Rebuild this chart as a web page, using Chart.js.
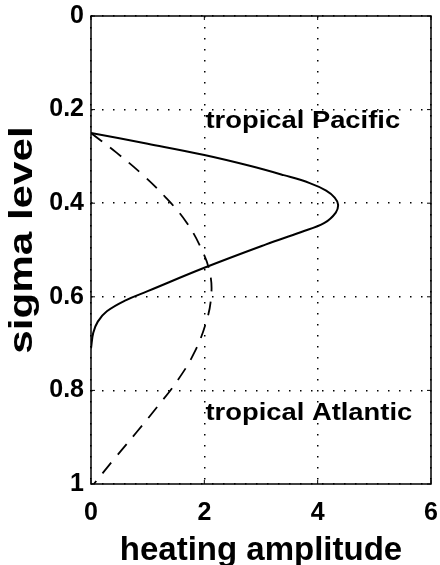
<!DOCTYPE html>
<html>
<head>
<meta charset="utf-8">
<script src="https://cdn.jsdelivr.net/npm/chart.js@4/dist/chart.umd.min.js"></script>
<style>
  body { margin: 0; background: #fff; }
  canvas { display: block; }
</style>
</head>
<body>
<canvas id="heatingChart" width="440" height="565"></canvas>
<script>
// Heating profiles: x = heating amplitude, y = sigma level
const pacificAmp   = [0, 1.0, 2.0, 2.8, 3.4, 3.86, 4.15, 4.30, 4.36, 4.32, 4.12, 3.7, 3.09, 2.0, 1.0, 0.62, 0.28, 0.12, 0.04, 0];
const pacificSigma = [0.25, 0.273, 0.297, 0.32, 0.34, 0.357, 0.373, 0.388, 0.403, 0.42, 0.442, 0.462, 0.488, 0.538, 0.588, 0.607, 0.631, 0.653, 0.677, 0.71];

const atlanticAmp   = [0, 0.45, 0.9, 1.32, 1.68, 1.95, 2.1, 2.12, 2.03, 1.82, 1.52, 1.17, 0.8, 0.42, 0.05];
const atlanticSigma = [0.25, 0.292, 0.338, 0.388, 0.44, 0.498, 0.55, 0.6, 0.655, 0.72, 0.78, 0.835, 0.89, 0.945, 1.0];

const xTickValues = [0, 2, 4, 6];
const xTickLabels = ['0', '2', '4', '6'];
const yTickValues = [0, 0.2, 0.4, 0.6, 0.8, 1];
const yTickLabels = ['0', '0.2', '0.4', '0.6', '0.8', '1'];

const labels = ['tropical Pacific', 'tropical Atlantic'];
const labelAt = [[2.02, 0.239], [2.02, 0.864]];
const yTitle = 'sigma level';

const FONT = "'Liberation Sans', Arial, Helvetica, sans-serif";

function toPoints(xs, ys) {
    return xs.map((x, i) => ({ x: x, y: ys[i] }));
}

// Box round the plot area, small inward ticks, curve labels and the y title
const framePlugin = {
    id: 'frame',
    afterDatasetsDraw(chart) {
        const { ctx, chartArea: a, scales } = chart;
        ctx.save();
        ctx.strokeStyle = '#000';
        ctx.lineWidth = 1.5;
        ctx.strokeRect(a.left, a.top, a.right - a.left, a.bottom - a.top);
        ctx.lineWidth = 1;
        ctx.beginPath();
        xTickValues.forEach(v => {
            const px = scales.x.getPixelForValue(v);
            ctx.moveTo(px, a.bottom); ctx.lineTo(px, a.bottom - 4);
            ctx.moveTo(px, a.top); ctx.lineTo(px, a.top + 4);
        });
        yTickValues.forEach(v => {
            const py = scales.y.getPixelForValue(v);
            ctx.moveTo(a.left, py); ctx.lineTo(a.left + 4, py);
            ctx.moveTo(a.right, py); ctx.lineTo(a.right - 4, py);
        });
        ctx.stroke();

        // curve labels (the original print is a bit stretched sideways)
        ctx.fillStyle = '#000';
        ctx.font = 'bold 24px ' + FONT;
        ctx.textBaseline = 'alphabetic';
        ctx.textAlign = 'left';
        labels.forEach((t, i) => {
            ctx.save();
            ctx.translate(scales.x.getPixelForValue(labelAt[i][0]), scales.y.getPixelForValue(labelAt[i][1]));
            ctx.scale(1.14, 1);
            ctx.fillText(t, 0, 0);
            ctx.restore();
        });

        // y axis title
        ctx.save();
        ctx.font = 'bold 34px ' + FONT;
        ctx.textAlign = 'center';
        ctx.translate(32, (a.top + a.bottom) / 2 - 10);
        ctx.rotate(-Math.PI / 2);
        ctx.scale(1.24, 1);
        ctx.fillText(yTitle, 0, 0);
        ctx.restore();

        ctx.restore();
    }
};

const ctx = document.getElementById('heatingChart').getContext('2d');

new Chart(ctx, {
    type: 'scatter',
    data: {
        datasets: [{
            label: 'tropical Pacific',
            data: toPoints(pacificAmp, pacificSigma),
            showLine: true,
            borderColor: '#000',
            borderWidth: 2,
            pointRadius: 0,
            tension: 0.4
        }, {
            label: 'tropical Atlantic',
            data: toPoints(atlanticAmp, atlanticSigma),
            showLine: true,
            borderColor: '#000',
            borderWidth: 1.8,
            borderDash: [14, 10],
            pointRadius: 0,
            tension: 0.4
        }]
    },
    options: {
        responsive: false,
        animation: false,
        layout: {
            padding: { left: 0, right: 9, top: 16, bottom: 0 }
        },
        plugins: {
            legend: { display: false },
            tooltip: { enabled: false }
        },
        scales: {
            x: {
                type: 'linear',
                min: 0,
                max: 6,
                afterBuildTicks: scale => { scale.ticks = xTickValues.map(v => ({ value: v })); },
                afterFit: scale => {
                    scale.height = 81;
                    scale.paddingLeft = 0;
                    scale.paddingRight = 0;
                },
                ticks: {
                    color: '#000',
                    padding: 14,
                    maxRotation: 0,
                    callback: (v, i) => xTickLabels[i],
                    font: { family: FONT, size: 25, weight: 'bold' }
                },
                grid: {
                    color: '#000',
                    lineWidth: 1.5,
                    drawTicks: false
                },
                border: { display: false, dash: [1.5, 9.5] },
                title: {
                    display: true,
                    text: 'heating amplitude',
                    color: '#000',
                    padding: { top: 0, bottom: -2 },
                    font: { family: FONT, size: 33, weight: 'bold', lineHeight: 1 }
                }
            },
            y: {
                type: 'linear',
                reverse: true,
                min: 0,
                max: 1,
                afterBuildTicks: scale => { scale.ticks = yTickValues.map(v => ({ value: v })); },
                afterFit: scale => {
                    scale.width = 91;
                    scale.paddingTop = 0;
                    scale.paddingBottom = 0;
                },
                ticks: {
                    color: '#000',
                    padding: 7,
                    callback: (v, i) => yTickLabels[i],
                    font: { family: FONT, size: 25, weight: 'bold' }
                },
                grid: {
                    color: '#000',
                    lineWidth: 1.5,
                    drawTicks: false
                },
                border: { display: false, dash: [1.5, 9.5] }
            }
        }
    },
    plugins: [framePlugin]
});
</script>
</body>
</html>
